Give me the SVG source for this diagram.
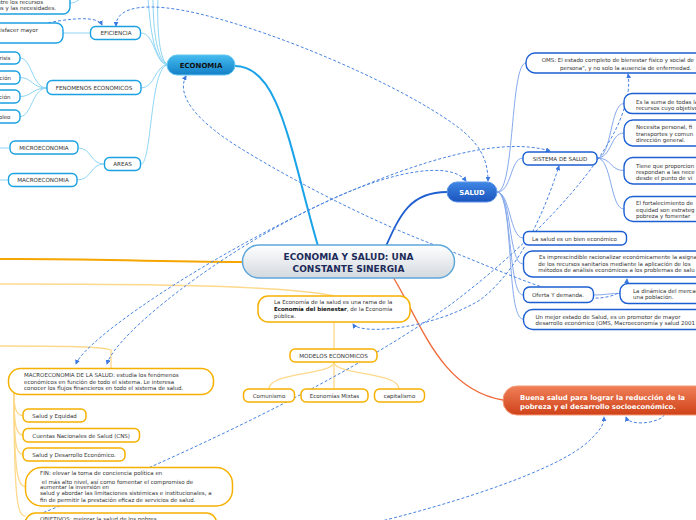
<svg xmlns="http://www.w3.org/2000/svg" width="696" height="520" viewBox="0 0 696 520">
<style>
.n{fill:#fff;stroke:#1ba1e2;stroke-width:1.4}
.s{fill:#fff;stroke:#1c5fd2;stroke-width:1.4}
.o{fill:#fff;stroke:#f6b100;stroke-width:1.5}
.t{font-family:"DejaVu Sans",Verdana,sans-serif;font-size:5.5px;fill:#333}
.u{font-size:5.6px}
.c{text-anchor:middle}
.e{text-anchor:end}
.lc{fill:none;stroke:#8fd6f5;stroke-width:1}
.ls{fill:none;stroke:#86a9ec;stroke-width:1}
.lo{fill:none;stroke:#fdd98c;stroke-width:1.3}
.d{fill:none;stroke:#4a84e2;stroke-width:1;stroke-dasharray:3 2;marker-end:url(#ar)}
.b{marker-start:url(#ar)}
</style>
<defs>
<marker id="ar" viewBox="0 0 6 6" refX="5" refY="3" markerWidth="5" markerHeight="5" orient="auto-start-reverse" markerUnits="userSpaceOnUse"><path d="M0,0 L6,3 L0,6 z" fill="#3b78e0"/></marker>
<linearGradient id="gc" x1="0" y1="0" x2="0" y2="1"><stop offset="0" stop-color="#ffffff"/><stop offset="1" stop-color="#d3d9df"/></linearGradient>
<linearGradient id="ge" x1="0" y1="0" x2="0" y2="1"><stop offset="0" stop-color="#45bdf0"/><stop offset="1" stop-color="#137fc6"/></linearGradient>
<linearGradient id="gs" x1="0" y1="0" x2="0" y2="1"><stop offset="0" stop-color="#3f86e4"/><stop offset="1" stop-color="#1a54bd"/></linearGradient>
<linearGradient id="gb" x1="0" y1="0" x2="0" y2="1"><stop offset="0" stop-color="#f08058"/><stop offset="1" stop-color="#cf4118"/></linearGradient>
</defs>

<g id="connectors">
<!-- main branches -->
<path d="M235,66 C280,66 290,150 318,246" fill="none" stroke="#1aa3e8" stroke-width="2"/>
<path d="M447,192 C410,192 400,215 386,246" fill="none" stroke="#1f5fcf" stroke-width="1.8"/>
<path d="M393,277 C420,320 440,390 503,400" fill="none" stroke="#f06a3a" stroke-width="1.4"/>
<path d="M243,262 C150,262 80,258 -5,259" fill="none" stroke="#f5a600" stroke-width="2"/>
<!-- economia subtree -->
<path class="lc" d="M168,65 C152,60 150,20 148,-2"/>
<path class="lc" d="M168,65 C155,60 153,20 153,-2"/>
<path class="lc" d="M168,65 C158,60 157,20 158,-2"/>
<path class="lc" d="M141,33 C155,33 155,65 168,65"/>
<path class="lc" d="M141,88 C155,88 155,65 168,65"/>
<path class="lc" d="M141,164 C152,164 150,65 168,65"/>
<path class="lc" d="M63,33 L90,33"/>
<path class="lc" d="M70,3 C76,3 78,0 82,-2"/>
<path class="lc" d="M47,88 C32,88 32,58 20,58"/>
<path class="lc" d="M47,88 C32,88 32,77.5 20,77.5"/>
<path class="lc" d="M47,88 C32,88 32,96.5 20,96.5"/>
<path class="lc" d="M47,88 C32,88 32,116.5 20,116.5"/>
<path class="lc" d="M104,164 C90,164 92,148 78,148"/>
<path class="lc" d="M104,164 C90,164 92,180 77,180"/>
<path class="lc" d="M10,148 L-2,148"/>
<path class="lc" d="M8,180 L-2,180"/>
<!-- salud subtree -->
<path class="ls" d="M497,192 C512,192 510,158 523,158"/>
<path class="ls" d="M497,192 C515,192 510,63 526,63"/>
<path class="ls" d="M497,192 C510,192 510,238 523,238"/>
<path class="ls" d="M497,192 C512,192 508,264 523,264"/>
<path class="ls" d="M497,192 C512,192 508,295 523,295"/>
<path class="ls" d="M497,192 C514,192 506,319 523,319"/>
<path class="ls" d="M597,158 C612,158 610,103.5 624,103.5"/>
<path class="ls" d="M597,158 C612,158 610,133 624,133"/>
<path class="ls" d="M597,158 C612,158 610,170.5 624,170.5"/>
<path class="ls" d="M597,158 C612,158 610,209 624,209"/>
<path class="ls" d="M593,295 C606,295 607,293.5 620,293.5"/>
<!-- orange subtree -->
<path class="lo" d="M-5,284 C100,284 280,284 334,296"/>
<path class="lo" d="M-5,346 C50,346 100,346 111,350 L111,368"/>
<path class="lo" d="M334,322 L334,349"/>
<path class="lo" d="M334,362 C334,375 269,372 269,389"/>
<path class="lo" d="M334,362 L334,389"/>
<path class="lo" d="M334,362 C334,375 399,372 399,389"/>
<path class="lo" d="M14,393 C14,408 16,415.5 23,415.5"/>
<path class="lo" d="M14,393 C14,425 16,435 23,435"/>
<path class="lo" d="M14,393 C14,445 16,454.5 23,454.5"/>
<path class="lo" d="M14,393 C14,475 18,486.5 25.5,486.5"/>
<path class="lo" d="M14,393 C14,505 18,516 25.5,516"/>
<!-- dashed relations -->
<path class="d" d="M-5,37 C30,25 95,10 102,25"/>
<path class="d b" d="M116,26 C116,5 150,2 200,14 C280,33 400,85 455,125 C480,143 488,160 488,181"/>
<path class="d b" d="M186,76 C176,95 195,120 240,148 C300,185 380,225 440,247 C500,270 560,300 600,298 C618,296 626,290 627,279"/>
<path class="d b" d="M76,364 C85,340 200,260 330,200 C420,160 500,136 550,151"/>
<path class="d b" d="M107,364 C115,335 220,250 330,200 C390,172 450,160 466,181"/>
<path class="d b" d="M353,324 C360,335 430,330 480,300 C520,270 545,210 559,166"/>
<path class="d" d="M25,520 C150,470 330,390 450,305 C530,245 600,170 620,120 C628,100 630,85 628,74"/>
<path class="d" d="M365,525 C450,505 560,470 590,440 C600,430 604,425 604,417"/>
<path class="d" style="marker-end:none;marker-start:url(#ar)" d="M626,417 C628,423 640,424 650,422 C658,420 663,418 664,415"/>
</g>

<g id="central">
<rect x="242.5" y="245" width="212" height="33" rx="16.5" fill="url(#gc)" stroke="#5ea7da" stroke-width="1.5"/>
<text x="348.5" y="259.5" font-family="DejaVu Sans,Verdana,sans-serif" font-size="9" font-weight="bold" fill="#1c2b5a" text-anchor="middle">ECONOMIA Y SALUD: UNA</text>
<text x="348.5" y="271.5" font-family="DejaVu Sans,Verdana,sans-serif" font-size="9" font-weight="bold" fill="#1c2b5a" text-anchor="middle">CONSTANTE SINERGIA</text>
</g>

<g id="economia">
<rect x="167" y="55" width="68" height="20" rx="10" fill="url(#ge)" stroke="#62c6f2" stroke-width="1"/>
<text x="201" y="67.5" font-family="DejaVu Sans,Verdana,sans-serif" font-size="7" font-weight="bold" fill="#111" text-anchor="middle">ECONOMIA</text>
</g>
<g id="eco-top"><rect class="n" x="-20" y="-8" width="90" height="22" rx="7"/>
<text class="t e" x="43" y="4.3">entre los recursos</text><text class="t e" x="56" y="10">os y las necesidades.</text></g>
<g id="eco-satisfacer"><rect class="n" x="-20" y="23" width="83" height="20" rx="7"/>
<text class="t e" x="38" y="32">satisfacer mayor</text></g>
<g id="eficiencia"><rect class="n" x="90.5" y="26.5" width="50" height="13" rx="5"/><text class="t u c" x="116" y="35">EFICIENCIA</text></g>
<g id="fenomenos"><rect class="n" x="47" y="80.5" width="94" height="14" rx="5"/><text class="t u c" x="94" y="89.5">FENOMENOS ECONOMICOS</text></g>
<g id="fen1"><rect class="n" x="-30" y="52" width="50" height="12" rx="5"/><text class="t e" x="10.5" y="60">risis</text></g>
<g id="fen2"><rect class="n" x="-30" y="71" width="50" height="13" rx="5"/><text class="t e" x="11" y="79.5">ción</text></g>
<g id="fen3"><rect class="n" x="-30" y="90" width="50" height="13" rx="5"/><text class="t e" x="10.5" y="98.5">ción</text></g>
<g id="fen4"><rect class="n" x="-30" y="110" width="50" height="13" rx="5"/><text class="t e" x="10.5" y="118.5">pleo</text></g>
<g id="areas"><rect class="n" x="104.5" y="157.5" width="36" height="13" rx="5"/><text class="t u c" x="122.5" y="166">AREAS</text></g>
<g id="micro"><rect class="n" x="10" y="141" width="68" height="13" rx="5"/><text class="t u c" x="44" y="149.8">MICROECONOMIA</text></g>
<g id="macro"><rect class="n" x="8.5" y="173.5" width="68.5" height="13" rx="5"/><text class="t u c" x="43" y="182.3">MACROECONOMIA</text></g>

<g id="salud">
<rect x="447" y="182" width="50" height="20" rx="10" fill="url(#gs)" stroke="#5b95e8" stroke-width="1"/>
<text x="472" y="194.5" font-family="DejaVu Sans,Verdana,sans-serif" font-size="6.8" font-weight="bold" fill="#fff" text-anchor="middle">SALUD</text>
</g>
<g id="oms"><rect class="s" x="526" y="53" width="185" height="20" rx="9"/>
<text class="t" x="541.7" y="62">OMS: El estado completo de bienestar físico y social de</text>
<text class="t" x="560" y="69.5">persona", y no solo la ausencia de enfermedad.</text></g>
<g id="sistema"><rect class="s" x="523" y="152" width="74" height="13" rx="5"/><text class="t u c" x="560" y="160.8">SISTEMA DE SALUD</text></g>
<g id="suma"><rect class="s" x="624" y="93.5" width="90" height="20" rx="8"/>
<text class="t" x="636" y="103.5">Es la suma de todas las</text><text class="t" x="636" y="109.7">recursos cuyo objetivo</text></g>
<g id="necesita"><rect class="s" x="624" y="120" width="90" height="26" rx="9"/>
<text class="t" x="636" y="129">Necesita personal, fi</text><text class="t" x="636" y="135.5">transportes y comun</text><text class="t" x="636" y="142">dirección general.</text></g>
<g id="tiene"><rect class="s" x="624" y="157.5" width="90" height="26.5" rx="9"/>
<text class="t" x="636" y="167.5">Tiene que proporcion</text><text class="t" x="636" y="174">respondan a las nece</text><text class="t" x="636" y="180.3">desde el punto de vi</text></g>
<g id="fortalecimiento"><rect class="s" x="624" y="196.5" width="90" height="25" rx="9"/>
<text class="t" x="636" y="205">El fortalecimiento de</text><text class="t" x="636" y="211.5">equidad son estrateg</text><text class="t" x="636" y="218">pobreza y fomentar</text></g>
<g id="bien"><rect class="s" x="523.5" y="231.5" width="103" height="13.5" rx="5"/><text class="t" x="532" y="240.5">La salud es un bien económico</text></g>
<g id="imprescindible"><rect class="s" x="523.5" y="251" width="190" height="26" rx="9"/>
<text class="t" x="539" y="259">Es imprescindible racionalizar económicamente la asigna</text>
<text class="t" x="538.3" y="265.5">de los  recursos sanitarios mediante la aplicación de los</text>
<text class="t" x="538.3" y="272">métodos de análisis económicos a los problemas de salu</text></g>
<g id="oferta"><rect class="s" x="523.5" y="287" width="70" height="15.5" rx="6"/><text class="t" x="532" y="297">Oferta Y demanda.</text></g>
<g id="dinamica"><rect class="s" x="620" y="283.5" width="90" height="20" rx="8"/>
<text class="t" x="633" y="292.5">La dinámica del mercado</text><text class="t" x="633" y="299">una población.</text></g>
<g id="mejor"><rect class="s" x="523.5" y="309.5" width="190" height="20" rx="9"/>
<text class="t" x="535.5" y="318.5">Un mejor estado de Salud, es un promotor de mayor</text>
<text class="t" x="535.5" y="325">desarrollo económico (OMS, Macroeconomía y salud 2001</text></g>

<g id="buena">
<rect x="503" y="386" width="215" height="29" rx="14" fill="url(#gb)" stroke="#f39a78" stroke-width="1"/>
<text x="520" y="399.5" font-family="DejaVu Sans,Verdana,sans-serif" font-size="6.9" font-weight="bold" fill="#fff">Buena salud para lograr la reducción de la</text>
<text x="520" y="409.3" font-family="DejaVu Sans,Verdana,sans-serif" font-size="6.9" font-weight="bold" fill="#fff">pobreza y el desarrollo socioeconómico.</text>
</g>

<g id="economia-salud"><rect class="o" x="258" y="296" width="152" height="26" rx="10"/>
<text class="t" x="274" y="304">La Economía de la salud es una rama de la</text>
<text class="t" x="274" y="311"><tspan font-weight="bold" fill="#111">Economía del bienestar</tspan>, de la Economía</text>
<text class="t" x="274" y="318">pública.</text></g>
<g id="modelos"><rect class="o" x="290" y="349" width="87" height="13" rx="5"/><text class="t u c" x="333.5" y="357.7">MODELOS ECONOMICOS</text></g>
<g id="comunismo"><rect class="o" x="243.5" y="389" width="51" height="13" rx="5"/><text class="t c" x="269" y="397.7">Comunismo</text></g>
<g id="mixtas"><rect class="o" x="301" y="389" width="67" height="13" rx="5"/><text class="t c" x="334.5" y="397.7">Economías Mixtas</text></g>
<g id="capitalismo"><rect class="o" x="374.5" y="389" width="50" height="13" rx="5"/><text class="t c" x="399.5" y="397.7">capitalismo</text></g>
<g id="macro-salud"><rect class="o" x="8.5" y="368.5" width="205" height="26" rx="12"/>
<text class="t" x="24" y="377">MACROECONOMIA DE LA SALUD: estudia los fenómenos</text>
<text class="t" x="24" y="383.5">económicos en función  de todo el sistema. Le interesa</text>
<text class="t" x="24" y="390">conocer los flujos financieros en todo el sistema de salud.</text></g>
<g id="equidad"><rect class="o" x="23" y="409" width="63" height="13" rx="5"/><text class="t" x="32.3" y="417.7">Salud y Equidad</text></g>
<g id="cns"><rect class="o" x="23" y="428.5" width="116.5" height="13.5" rx="5"/><text class="t" x="32.3" y="437.5">Cuentas Nacionales de Salud (CNS)</text></g>
<g id="desarrollo"><rect class="o" x="23" y="448" width="102" height="13" rx="5"/><text class="t" x="32.3" y="456.7">Salud y Desarrollo Económico.</text></g>
<g id="fin"><rect class="o" x="25.5" y="467.5" width="207" height="38.5" rx="16"/>
<text class="t" x="40" y="475.3">FIN: elevar la toma de conciencia política en</text>
<text class="t" x="40" y="483.5" xml:space="preserve"> el más alto nivel, así como fomentar el compromiso de</text>
<text class="t" x="40" y="488.7">aumentar la inversión en</text>
<text class="t" x="40" y="495.3">salud y abordar las limitaciones sistémicas e institucionales, a</text>
<text class="t" x="40" y="502">fin de permitir la prestación eficaz de servicios de salud.</text></g>
<g id="objetivos"><rect class="o" x="25.5" y="513" width="191" height="20" rx="10"/>
<text class="t" x="40" y="520.5">OBJETIVOS: mejorar la salud de los pobres</text></g>
</svg>
